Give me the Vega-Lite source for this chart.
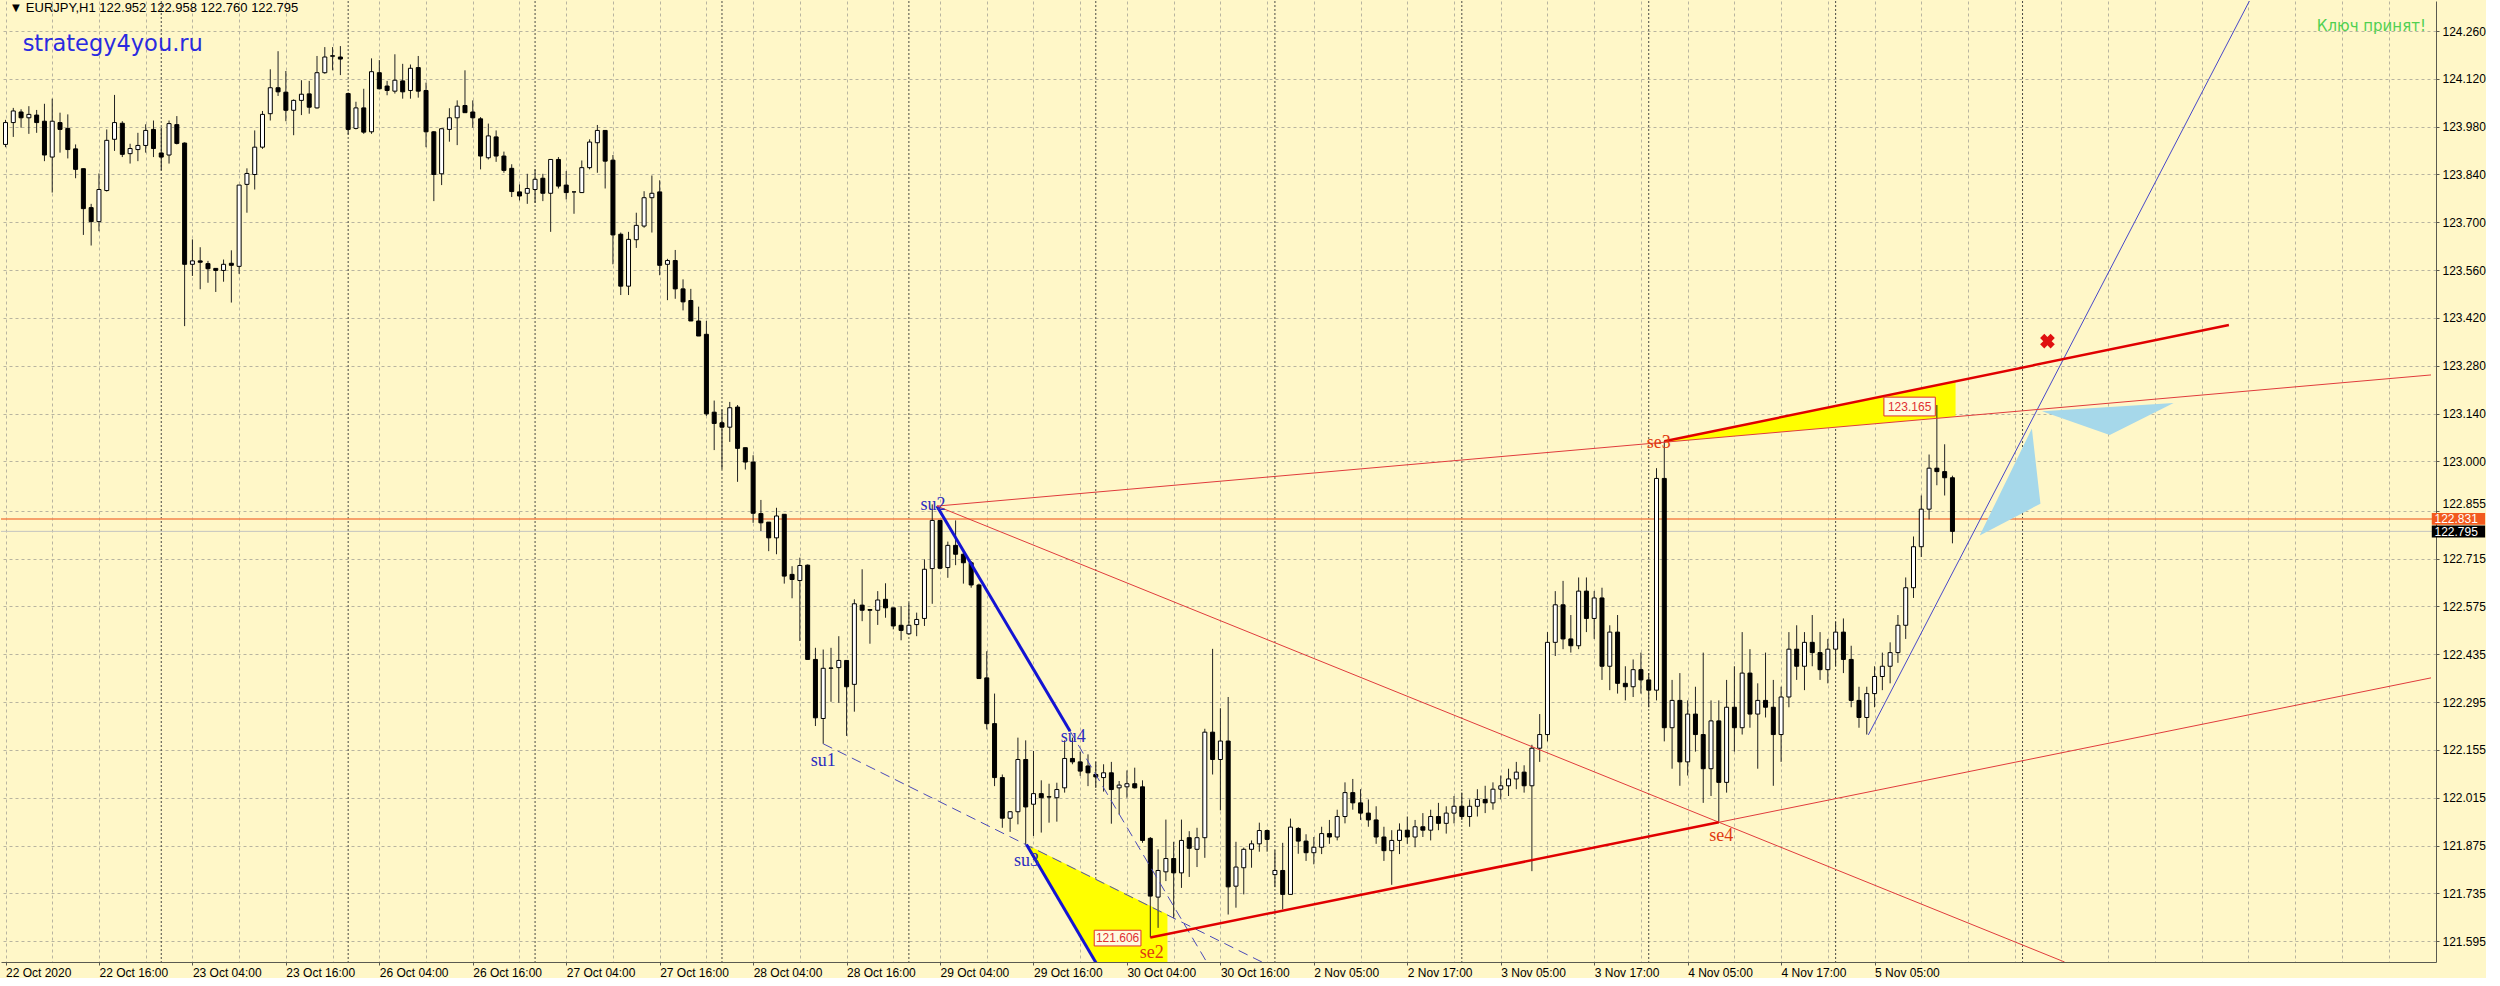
{
"$schema": "https://vega.github.io/schema/vega-lite/v6.json",
"width": 2435, "height": 961, "padding": 0,
"background": "#fff7c8",
"config": {"view": {"stroke": null}},
"data": {"values": [{}]},
"datasets": {
"sep": [{"n":20},{"n":44},{"n":68},{"n":92},{"n":116},{"n":140},{"n":163},{"n":187},{"n":211},{"n":235},{"n":259}],
"cd": [
{"n":0,"o":123.928,"h":124.0,"l":123.92,"c":123.992},
{"n":1,"o":123.992,"h":124.035,"l":123.95,"c":124.026},
{"n":2,"o":124.023,"h":124.031,"l":123.977,"c":124.006},
{"n":3,"o":124.006,"h":124.04,"l":123.959,"c":124.016},
{"n":4,"o":124.014,"h":124.029,"l":123.962,"c":123.992},
{"n":5,"o":123.996,"h":124.047,"l":123.879,"c":123.897},
{"n":6,"o":123.891,"h":124.062,"l":123.787,"c":123.996},
{"n":7,"o":123.992,"h":124.021,"l":123.904,"c":123.972},
{"n":8,"o":123.975,"h":124.016,"l":123.887,"c":123.913},
{"n":9,"o":123.915,"h":123.928,"l":123.829,"c":123.855},
{"n":10,"o":123.857,"h":123.857,"l":123.663,"c":123.74},
{"n":11,"o":123.743,"h":123.754,"l":123.632,"c":123.702},
{"n":12,"o":123.702,"h":123.843,"l":123.674,"c":123.796},
{"n":13,"o":123.793,"h":123.972,"l":123.79,"c":123.94},
{"n":14,"o":123.943,"h":124.073,"l":123.909,"c":123.992},
{"n":15,"o":123.99,"h":123.996,"l":123.891,"c":123.899},
{"n":16,"o":123.901,"h":123.93,"l":123.872,"c":123.916},
{"n":17,"o":123.913,"h":123.962,"l":123.879,"c":123.925},
{"n":18,"o":123.925,"h":123.987,"l":123.904,"c":123.969},
{"n":19,"o":123.972,"h":123.998,"l":123.891,"c":123.916},
{"n":20,"o":123.903,"h":123.977,"l":123.852,"c":123.891},
{"n":21,"o":123.897,"h":123.998,"l":123.872,"c":123.989},
{"n":22,"o":123.986,"h":124.011,"l":123.928,"c":123.931},
{"n":23,"o":123.932,"h":123.934,"l":123.396,"c":123.577},
{"n":24,"o":123.577,"h":123.65,"l":123.543,"c":123.587},
{"n":25,"o":123.587,"h":123.627,"l":123.504,"c":123.583},
{"n":26,"o":123.579,"h":123.587,"l":123.523,"c":123.564},
{"n":27,"o":123.565,"h":123.565,"l":123.496,"c":123.559},
{"n":28,"o":123.559,"h":123.591,"l":123.526,"c":123.577},
{"n":29,"o":123.58,"h":123.618,"l":123.465,"c":123.574},
{"n":30,"o":123.571,"h":123.809,"l":123.549,"c":123.809},
{"n":31,"o":123.811,"h":123.858,"l":123.728,"c":123.843},
{"n":32,"o":123.84,"h":123.969,"l":123.796,"c":123.92},
{"n":33,"o":123.92,"h":124.026,"l":123.915,"c":124.016},
{"n":34,"o":124.018,"h":124.148,"l":123.998,"c":124.094},
{"n":35,"o":124.094,"h":124.201,"l":124.07,"c":124.082},
{"n":36,"o":124.081,"h":124.143,"l":123.996,"c":124.028},
{"n":37,"o":124.028,"h":124.06,"l":123.955,"c":124.057},
{"n":38,"o":124.057,"h":124.116,"l":124.014,"c":124.075},
{"n":39,"o":124.076,"h":124.114,"l":124.018,"c":124.037},
{"n":40,"o":124.035,"h":124.187,"l":124.033,"c":124.138},
{"n":41,"o":124.138,"h":124.213,"l":124.135,"c":124.184},
{"n":42,"o":124.186,"h":124.213,"l":124.145,"c":124.188},
{"n":43,"o":124.184,"h":124.216,"l":124.131,"c":124.178},
{"n":44,"o":124.077,"h":124.08,"l":123.957,"c":123.972},
{"n":45,"o":123.975,"h":124.053,"l":123.972,"c":124.035},
{"n":46,"o":124.035,"h":124.091,"l":123.959,"c":123.964},
{"n":47,"o":123.965,"h":124.18,"l":123.959,"c":124.141},
{"n":48,"o":124.138,"h":124.175,"l":124.089,"c":124.091},
{"n":49,"o":124.099,"h":124.114,"l":124.072,"c":124.086},
{"n":50,"o":124.084,"h":124.192,"l":124.077,"c":124.116},
{"n":51,"o":124.114,"h":124.164,"l":124.062,"c":124.082},
{"n":52,"o":124.086,"h":124.162,"l":124.062,"c":124.151},
{"n":53,"o":124.153,"h":124.187,"l":124.065,"c":124.084},
{"n":54,"o":124.086,"h":124.109,"l":123.92,"c":123.965},
{"n":55,"o":123.965,"h":123.967,"l":123.762,"c":123.84},
{"n":56,"o":123.842,"h":123.974,"l":123.809,"c":123.974},
{"n":57,"o":123.972,"h":124.034,"l":123.936,"c":124.006},
{"n":58,"o":124.006,"h":124.057,"l":123.926,"c":124.04},
{"n":59,"o":124.042,"h":124.145,"l":124.021,"c":124.021},
{"n":60,"o":124.023,"h":124.057,"l":123.977,"c":124.006},
{"n":61,"o":124.003,"h":124.008,"l":123.855,"c":123.894},
{"n":62,"o":123.889,"h":123.989,"l":123.884,"c":123.953},
{"n":63,"o":123.95,"h":123.969,"l":123.877,"c":123.894},
{"n":64,"o":123.894,"h":123.907,"l":123.845,"c":123.852},
{"n":65,"o":123.858,"h":123.87,"l":123.774,"c":123.79},
{"n":66,"o":123.789,"h":123.811,"l":123.764,"c":123.777},
{"n":67,"o":123.785,"h":123.842,"l":123.754,"c":123.799},
{"n":68,"o":123.796,"h":123.855,"l":123.757,"c":123.826},
{"n":69,"o":123.829,"h":123.842,"l":123.762,"c":123.785},
{"n":70,"o":123.785,"h":123.884,"l":123.672,"c":123.884},
{"n":71,"o":123.884,"h":123.891,"l":123.799,"c":123.806},
{"n":72,"o":123.809,"h":123.85,"l":123.767,"c":123.787},
{"n":73,"o":123.789,"h":123.789,"l":123.725,"c":123.789},
{"n":74,"o":123.787,"h":123.881,"l":123.787,"c":123.86},
{"n":75,"o":123.86,"h":123.943,"l":123.855,"c":123.935},
{"n":76,"o":123.933,"h":123.985,"l":123.845,"c":123.969},
{"n":77,"o":123.969,"h":123.969,"l":123.799,"c":123.879},
{"n":78,"o":123.882,"h":123.897,"l":123.577,"c":123.663},
{"n":79,"o":123.665,"h":123.67,"l":123.487,"c":123.513},
{"n":80,"o":123.513,"h":123.672,"l":123.487,"c":123.65},
{"n":81,"o":123.649,"h":123.728,"l":123.625,"c":123.691},
{"n":82,"o":123.689,"h":123.791,"l":123.684,"c":123.772},
{"n":83,"o":123.772,"h":123.837,"l":123.67,"c":123.785},
{"n":84,"o":123.789,"h":123.823,"l":123.545,"c":123.574},
{"n":85,"o":123.577,"h":123.593,"l":123.472,"c":123.588},
{"n":86,"o":123.588,"h":123.619,"l":123.476,"c":123.505},
{"n":87,"o":123.505,"h":123.533,"l":123.442,"c":123.467},
{"n":88,"o":123.471,"h":123.505,"l":123.411,"c":123.411},
{"n":89,"o":123.411,"h":123.453,"l":123.367,"c":123.367},
{"n":90,"o":123.372,"h":123.411,"l":123.133,"c":123.139},
{"n":91,"o":123.144,"h":123.178,"l":123.033,"c":123.111},
{"n":92,"o":123.113,"h":123.152,"l":122.977,"c":123.1},
{"n":93,"o":123.1,"h":123.174,"l":123.057,"c":123.157},
{"n":94,"o":123.159,"h":123.165,"l":122.94,"c":123.038},
{"n":95,"o":123.04,"h":123.04,"l":122.976,"c":122.998},
{"n":96,"o":122.998,"h":123.018,"l":122.82,"c":122.848},
{"n":97,"o":122.847,"h":122.887,"l":122.796,"c":122.82},
{"n":98,"o":122.822,"h":122.822,"l":122.737,"c":122.776},
{"n":99,"o":122.776,"h":122.864,"l":122.728,"c":122.84},
{"n":100,"o":122.845,"h":122.845,"l":122.642,"c":122.664},
{"n":101,"o":122.669,"h":122.693,"l":122.599,"c":122.654},
{"n":102,"o":122.651,"h":122.718,"l":122.474,"c":122.695},
{"n":103,"o":122.696,"h":122.698,"l":122.42,"c":122.42},
{"n":104,"o":122.42,"h":122.454,"l":122.225,"c":122.249},
{"n":105,"o":122.247,"h":122.449,"l":122.173,"c":122.394},
{"n":106,"o":122.394,"h":122.454,"l":122.296,"c":122.395},
{"n":107,"o":122.396,"h":122.488,"l":122.293,"c":122.417},
{"n":108,"o":122.417,"h":122.417,"l":122.196,"c":122.34},
{"n":109,"o":122.347,"h":122.596,"l":122.267,"c":122.583},
{"n":110,"o":122.579,"h":122.684,"l":122.532,"c":122.564},
{"n":111,"o":122.566,"h":122.567,"l":122.466,"c":122.564},
{"n":112,"o":122.564,"h":122.62,"l":122.521,"c":122.594},
{"n":113,"o":122.596,"h":122.643,"l":122.542,"c":122.571},
{"n":114,"o":122.571,"h":122.571,"l":122.508,"c":122.518},
{"n":115,"o":122.52,"h":122.576,"l":122.476,"c":122.505},
{"n":116,"o":122.495,"h":122.586,"l":122.493,"c":122.52},
{"n":117,"o":122.522,"h":122.557,"l":122.488,"c":122.537},
{"n":118,"o":122.54,"h":122.713,"l":122.518,"c":122.684},
{"n":119,"o":122.686,"h":122.874,"l":122.583,"c":122.827},
{"n":120,"o":122.827,"h":122.827,"l":122.684,"c":122.687},
{"n":121,"o":122.689,"h":122.765,"l":122.659,"c":122.754},
{"n":122,"o":122.754,"h":122.827,"l":122.696,"c":122.728},
{"n":123,"o":122.728,"h":122.737,"l":122.642,"c":122.703},
{"n":124,"o":122.703,"h":122.708,"l":122.63,"c":122.638},
{"n":125,"o":122.638,"h":122.642,"l":122.364,"c":122.364},
{"n":126,"o":122.366,"h":122.444,"l":122.215,"c":122.232},
{"n":127,"o":122.232,"h":122.32,"l":122.049,"c":122.074},
{"n":128,"o":122.074,"h":122.083,"l":121.927,"c":121.955},
{"n":129,"o":121.955,"h":121.976,"l":121.915,"c":121.974},
{"n":130,"o":121.974,"h":122.191,"l":121.937,"c":122.127},
{"n":131,"o":122.127,"h":122.183,"l":121.878,"c":121.988},
{"n":132,"o":121.996,"h":122.152,"l":121.903,"c":122.027},
{"n":133,"o":122.027,"h":122.066,"l":121.913,"c":122.015},
{"n":134,"o":122.017,"h":122.056,"l":121.942,"c":122.018},
{"n":135,"o":122.015,"h":122.059,"l":121.945,"c":122.039},
{"n":136,"o":122.044,"h":122.183,"l":122.03,"c":122.13},
{"n":137,"o":122.13,"h":122.191,"l":122.113,"c":122.12},
{"n":138,"o":122.12,"h":122.15,"l":122.079,"c":122.093},
{"n":139,"o":122.108,"h":122.142,"l":122.049,"c":122.088},
{"n":140,"o":122.083,"h":122.12,"l":122.044,"c":122.076},
{"n":141,"o":122.074,"h":122.113,"l":122.033,"c":122.088},
{"n":142,"o":122.088,"h":122.12,"l":121.939,"c":122.039},
{"n":143,"o":122.044,"h":122.064,"l":121.966,"c":122.052},
{"n":144,"o":122.047,"h":122.095,"l":122.015,"c":122.056},
{"n":145,"o":122.056,"h":122.103,"l":122.042,"c":122.044},
{"n":146,"o":122.047,"h":122.066,"l":121.883,"c":121.89},
{"n":147,"o":121.896,"h":121.9,"l":121.606,"c":121.727},
{"n":148,"o":121.724,"h":121.864,"l":121.634,"c":121.802},
{"n":149,"o":121.798,"h":121.951,"l":121.771,"c":121.837},
{"n":150,"o":121.837,"h":121.886,"l":121.662,"c":121.795},
{"n":151,"o":121.795,"h":121.951,"l":121.751,"c":121.89},
{"n":152,"o":121.898,"h":121.917,"l":121.783,"c":121.867},
{"n":153,"o":121.864,"h":121.927,"l":121.812,"c":121.898},
{"n":154,"o":121.898,"h":122.217,"l":121.839,"c":122.207},
{"n":155,"o":122.207,"h":122.451,"l":122.083,"c":122.127},
{"n":156,"o":122.127,"h":122.277,"l":121.978,"c":122.181},
{"n":157,"o":122.181,"h":122.31,"l":121.673,"c":121.754},
{"n":158,"o":121.756,"h":121.886,"l":121.693,"c":121.812},
{"n":159,"o":121.81,"h":121.869,"l":121.732,"c":121.864},
{"n":160,"o":121.864,"h":121.89,"l":121.81,"c":121.88},
{"n":161,"o":121.88,"h":121.942,"l":121.857,"c":121.919},
{"n":162,"o":121.919,"h":121.922,"l":121.857,"c":121.893},
{"n":163,"o":121.79,"h":121.861,"l":121.753,"c":121.802},
{"n":164,"o":121.802,"h":121.883,"l":121.688,"c":121.732},
{"n":165,"o":121.732,"h":121.954,"l":121.732,"c":121.929},
{"n":166,"o":121.925,"h":121.929,"l":121.851,"c":121.888},
{"n":167,"o":121.888,"h":121.908,"l":121.83,"c":121.854},
{"n":168,"o":121.854,"h":121.9,"l":121.82,"c":121.87},
{"n":169,"o":121.87,"h":121.93,"l":121.85,"c":121.91},
{"n":170,"o":121.91,"h":121.95,"l":121.88,"c":121.9},
{"n":171,"o":121.9,"h":121.98,"l":121.89,"c":121.96},
{"n":172,"o":121.96,"h":122.06,"l":121.94,"c":122.03},
{"n":173,"o":122.03,"h":122.07,"l":121.98,"c":122.0},
{"n":174,"o":122.0,"h":122.04,"l":121.95,"c":121.97},
{"n":175,"o":121.97,"h":122.01,"l":121.93,"c":121.95},
{"n":176,"o":121.95,"h":121.99,"l":121.88,"c":121.9},
{"n":177,"o":121.9,"h":121.93,"l":121.83,"c":121.86},
{"n":178,"o":121.86,"h":121.92,"l":121.76,"c":121.89},
{"n":179,"o":121.89,"h":121.94,"l":121.85,"c":121.92},
{"n":180,"o":121.92,"h":121.96,"l":121.88,"c":121.9},
{"n":181,"o":121.9,"h":121.95,"l":121.87,"c":121.93},
{"n":182,"o":121.93,"h":121.97,"l":121.9,"c":121.92},
{"n":183,"o":121.92,"h":121.98,"l":121.89,"c":121.96},
{"n":184,"o":121.96,"h":122.0,"l":121.92,"c":121.94},
{"n":185,"o":121.94,"h":121.99,"l":121.91,"c":121.97},
{"n":186,"o":121.97,"h":122.02,"l":121.94,"c":121.99},
{"n":187,"o":121.99,"h":122.03,"l":121.95,"c":121.96},
{"n":188,"o":121.96,"h":122.01,"l":121.93,"c":121.99},
{"n":189,"o":121.99,"h":122.04,"l":121.96,"c":122.01},
{"n":190,"o":122.01,"h":122.05,"l":121.97,"c":122.0},
{"n":191,"o":122.0,"h":122.06,"l":121.98,"c":122.04},
{"n":192,"o":122.04,"h":122.08,"l":122.01,"c":122.05},
{"n":193,"o":122.05,"h":122.1,"l":122.02,"c":122.07},
{"n":194,"o":122.07,"h":122.12,"l":122.04,"c":122.09},
{"n":195,"o":122.09,"h":122.11,"l":122.03,"c":122.05},
{"n":196,"o":122.05,"h":122.17,"l":121.8,"c":122.16},
{"n":197,"o":122.16,"h":122.26,"l":122.12,"c":122.2},
{"n":198,"o":122.2,"h":122.5,"l":122.18,"c":122.47},
{"n":199,"o":122.47,"h":122.62,"l":122.43,"c":122.58},
{"n":200,"o":122.58,"h":122.65,"l":122.45,"c":122.48},
{"n":201,"o":122.48,"h":122.55,"l":122.44,"c":122.46},
{"n":202,"o":122.46,"h":122.66,"l":122.45,"c":122.62},
{"n":203,"o":122.62,"h":122.66,"l":122.5,"c":122.54},
{"n":204,"o":122.54,"h":122.62,"l":122.48,"c":122.6},
{"n":205,"o":122.6,"h":122.63,"l":122.36,"c":122.4},
{"n":206,"o":122.4,"h":122.52,"l":122.33,"c":122.5},
{"n":207,"o":122.5,"h":122.55,"l":122.32,"c":122.35},
{"n":208,"o":122.35,"h":122.4,"l":122.3,"c":122.34},
{"n":209,"o":122.34,"h":122.42,"l":122.31,"c":122.39},
{"n":210,"o":122.39,"h":122.44,"l":122.32,"c":122.36},
{"n":211,"o":122.36,"h":122.38,"l":122.28,"c":122.33},
{"n":212,"o":122.33,"h":122.98,"l":122.3,"c":122.95},
{"n":213,"o":122.95,"h":123.06,"l":122.18,"c":122.22},
{"n":214,"o":122.22,"h":122.36,"l":122.1,"c":122.3},
{"n":215,"o":122.3,"h":122.38,"l":122.05,"c":122.12},
{"n":216,"o":122.12,"h":122.3,"l":122.08,"c":122.26},
{"n":217,"o":122.26,"h":122.34,"l":122.15,"c":122.2},
{"n":218,"o":122.2,"h":122.44,"l":122.0,"c":122.1},
{"n":219,"o":122.1,"h":122.3,"l":122.02,"c":122.24},
{"n":220,"o":122.24,"h":122.3,"l":121.945,"c":122.06},
{"n":221,"o":122.06,"h":122.36,"l":122.03,"c":122.28},
{"n":222,"o":122.28,"h":122.4,"l":122.15,"c":122.22},
{"n":223,"o":122.22,"h":122.5,"l":122.2,"c":122.38},
{"n":224,"o":122.38,"h":122.45,"l":122.22,"c":122.26},
{"n":225,"o":122.26,"h":122.35,"l":122.1,"c":122.3},
{"n":226,"o":122.3,"h":122.44,"l":122.25,"c":122.28},
{"n":227,"o":122.28,"h":122.36,"l":122.05,"c":122.2},
{"n":228,"o":122.2,"h":122.34,"l":122.12,"c":122.31},
{"n":229,"o":122.31,"h":122.5,"l":122.28,"c":122.45},
{"n":230,"o":122.45,"h":122.52,"l":122.36,"c":122.4},
{"n":231,"o":122.4,"h":122.5,"l":122.33,"c":122.47},
{"n":232,"o":122.47,"h":122.55,"l":122.4,"c":122.44},
{"n":233,"o":122.44,"h":122.5,"l":122.36,"c":122.39},
{"n":234,"o":122.39,"h":122.48,"l":122.35,"c":122.45},
{"n":235,"o":122.45,"h":122.53,"l":122.4,"c":122.5},
{"n":236,"o":122.5,"h":122.54,"l":122.38,"c":122.42},
{"n":237,"o":122.42,"h":122.46,"l":122.28,"c":122.3},
{"n":238,"o":122.3,"h":122.34,"l":122.22,"c":122.25},
{"n":239,"o":122.25,"h":122.34,"l":122.2,"c":122.32},
{"n":240,"o":122.32,"h":122.4,"l":122.28,"c":122.37},
{"n":241,"o":122.37,"h":122.44,"l":122.33,"c":122.4},
{"n":242,"o":122.4,"h":122.47,"l":122.35,"c":122.44},
{"n":243,"o":122.44,"h":122.55,"l":122.41,"c":122.52},
{"n":244,"o":122.52,"h":122.66,"l":122.48,"c":122.63},
{"n":245,"o":122.63,"h":122.78,"l":122.6,"c":122.75},
{"n":246,"o":122.75,"h":122.9,"l":122.72,"c":122.86},
{"n":247,"o":122.86,"h":123.02,"l":122.83,"c":122.98},
{"n":248,"o":122.98,"h":123.165,"l":122.93,"c":122.97},
{"n":249,"o":122.97,"h":123.05,"l":122.9,"c":122.952},
{"n":250,"o":122.952,"h":122.958,"l":122.76,"c":122.795}
],
"yel": [{"g":"a","x":131.1,"y":121.878,"y2":121.878},{"g":"a","x":149.2,"y":121.674,"y2":121.176},{"g":"b","x":213,"y":123.059,"y2":123.056},{"g":"b","x":250.4,"y":123.234,"y2":123.131}],
"lb": [{"g":"c","x":261.5,"y":123.147,"y2":123.147},{"g":"c","x":270.2,"y":123.159,"y2":123.077},{"g":"c","x":278.4,"y":123.171,"y2":123.171},{"g":"d","x":253.5,"y":122.783,"y2":122.783},{"g":"d","x":260.2,"y":123.096,"y2":122.863},{"g":"d","x":261.3,"y":122.876,"y2":122.876}],
"blueThick": [{"x1":119.6,"p1":122.869,"x2":136.7,"p2":122.21},{"x1":131.1,"p1":121.878,"x2":149.2,"p2":121.176}],
"blueDash": [{"x1":105,"p1":122.173,"x2":161.5,"p2":121.532},{"x1":136.7,"p1":122.21,"x2":154.5,"p2":121.524}],
"blueThin": [{"x1":239.2,"p1":122.199,"x2":290,"p2":124.43}],
"redThin": [{"x1":119.6,"p1":122.869,"x2":311.45,"p2":123.253},{"x1":119.6,"p1":122.869,"x2":264.4,"p2":121.534},{"x1":220,"p1":121.943,"x2":311.45,"p2":122.366}],
"redThick": [{"x1":147,"p1":121.606,"x2":220,"p2":121.943},{"x1":213,"p1":123.059,"x2":285.5,"p2":123.399}],
"suT": [{"n":105.0,"p":122.124,"t":"su1"},{"n":119.1,"p":122.872,"t":"su2"},{"n":131.1,"p":121.83,"t":"su3"},{"n":137.1,"p":122.193,"t":"su4"}],
"seT": [{"n":147.2,"p":121.561,"t":"se2"},{"n":212.3,"p":123.054,"t":"se3"},{"n":220.3,"p":121.904,"t":"se4"}],
"box": [{"x1":139.8,"x2":145.8,"p1":121.581,"p2":121.627,"n":142.8,"p":121.604,"t":"121.606"},{"x1":241.2,"x2":247.8,"p1":123.133,"p2":123.188,"n":244.5,"p":123.16,"t":"123.165"}],
"xmark": [{"n":262.2,"p":123.352}]
},
"layer": [
{"data":{"name":"sep"},"mark":{"type":"rule","color":"#4a4a44","strokeDash":[2,2],"strokeWidth":1},
 "encoding":{"x":{"field":"n","type":"quantitative","title":null,"scale":{"domain":[0.064,311.45],"nice":false,"zero":false},
  "axis":{"orient":"bottom","values":[0,6,12,18,24,30,36,42,48,54,60,66,72,78,84,90,96,102,108,114,120,126,132,138,144,150,156,162,168,174,180,186,192,198,204,210,216,222,228,234,240,246,252,258,264,270,276,282,288,294,300,306],
  "grid":true,"gridColor":"#b8b4a0","gridDash":[3,3],"gridWidth":1,"domainColor":"#5a5a50","tickColor":"#5a5a50","tickSize":3,
  "tickOpacity":{"condition":{"test":"datum.value % 12 != 0 || datum.value > 240","value":0},"value":1},
  "labelExpr":"datum.value % 12 == 0 && datum.value <= 240 ? ['22 Oct 2020','22 Oct 16:00','23 Oct 04:00','23 Oct 16:00','26 Oct 04:00','26 Oct 16:00','27 Oct 04:00','27 Oct 16:00','28 Oct 04:00','28 Oct 16:00','29 Oct 04:00','29 Oct 16:00','30 Oct 04:00','30 Oct 16:00','2 Nov 05:00','2 Nov 17:00','3 Nov 05:00','3 Nov 17:00','4 Nov 05:00','4 Nov 17:00','5 Nov 05:00'][datum.value / 12] : ''",
  "labelAlign":"left","labelFont":"Liberation Sans","labelFontSize":12,"labelColor":"#000000","labelPadding":2,"labelOverlap":false,"labelBound":false,"labelFlush":false,"title":null,"zindex":0}}}},
{"mark":{"type":"rule","color":"#f4844c","strokeWidth":1.5},
 "encoding":{"y":{"datum":122.831,"type":"quantitative","title":null,"scale":{"domain":[121.534,124.348],"nice":false,"zero":false},
  "axis":{"orient":"right","values":[124.26,124.12,123.98,123.84,123.7,123.56,123.42,123.28,123.14,123.0,122.855,122.715,122.575,122.435,122.295,122.155,122.015,121.875,121.735,121.595],
  "format":".3f","grid":true,"gridColor":"#b8b4a0","gridDash":[3,3],"gridWidth":1,"domainColor":"#5a5a50","tickColor":"#5a5a50","tickSize":3,
  "labelBaseline":{"condition":{"test":"datum.value == 122.855","value":"bottom"},"value":"middle"},
  "labelFont":"Liberation Sans","labelFontSize":12,"labelColor":"#000000","labelPadding":3,"labelOverlap":false,"labelBound":false,"labelFlush":false,"title":null,"zindex":0}}}},
{"mark":{"type":"rule","color":"#c4c4c0","strokeWidth":1},
 "encoding":{"y":{"datum":122.795,"type":"quantitative","title":null}}},
{"data":{"name":"yel"},"mark":{"type":"area","color":"#ffff00","opacity":1,"clip":true},
 "encoding":{"x":{"field":"x","type":"quantitative","title":null},"y":{"field":"y","type":"quantitative","title":null},"y2":{"field":"y2"},"detail":{"field":"g"}}},
{"data":{"name":"cd"},"mark":{"type":"rule","color":"#222222","strokeWidth":1},
 "encoding":{"x":{"field":"n","type":"quantitative","title":null},"y":{"field":"l","type":"quantitative","title":null},"y2":{"field":"h"}}},
{"data":{"name":"cd"},"mark":{"type":"bar","size":4,"stroke":"#000000","strokeWidth":1},
 "encoding":{"x":{"field":"n","type":"quantitative","title":null},"y":{"field":"o","type":"quantitative","title":null},"y2":{"field":"c"},
  "fill":{"condition":{"test":"datum.c >= datum.o","value":"#ffffff"},"value":"#000000"}}},
{"data":{"name":"blueDash"},"mark":{"type":"rule","color":"#4a4ab8","strokeWidth":1,"strokeDash":[10,6],"clip":true},
 "encoding":{"x":{"field":"x1","type":"quantitative","title":null},"x2":{"field":"x2"},"y":{"field":"p1","type":"quantitative","title":null},"y2":{"field":"p2"}}},
{"data":{"name":"blueThin"},"mark":{"type":"rule","color":"#4848c8","strokeWidth":1,"clip":true},
 "encoding":{"x":{"field":"x1","type":"quantitative","title":null},"x2":{"field":"x2"},"y":{"field":"p1","type":"quantitative","title":null},"y2":{"field":"p2"}}},
{"data":{"name":"blueThick"},"mark":{"type":"rule","color":"#1414d2","strokeWidth":3,"clip":true},
 "encoding":{"x":{"field":"x1","type":"quantitative","title":null},"x2":{"field":"x2"},"y":{"field":"p1","type":"quantitative","title":null},"y2":{"field":"p2"}}},
{"data":{"name":"redThin"},"mark":{"type":"rule","color":"#e03c3c","strokeWidth":1,"clip":true},
 "encoding":{"x":{"field":"x1","type":"quantitative","title":null},"x2":{"field":"x2"},"y":{"field":"p1","type":"quantitative","title":null},"y2":{"field":"p2"}}},
{"data":{"name":"redThick"},"mark":{"type":"rule","color":"#e00000","strokeWidth":2.5,"clip":true},
 "encoding":{"x":{"field":"x1","type":"quantitative","title":null},"x2":{"field":"x2"},"y":{"field":"p1","type":"quantitative","title":null},"y2":{"field":"p2"}}},
{"data":{"name":"lb"},"mark":{"type":"area","color":"#a6d8ea","opacity":1,"clip":true},
 "encoding":{"x":{"field":"x","type":"quantitative","title":null},"y":{"field":"y","type":"quantitative","title":null},"y2":{"field":"y2"},"detail":{"field":"g"}}},
{"data":{"name":"xmark"},"mark":{"type":"point","shape":"cross","angle":45,"size":220,"filled":true,"color":"#e01010","opacity":1},
 "encoding":{"x":{"field":"n","type":"quantitative","title":null},"y":{"field":"p","type":"quantitative","title":null}}},
{"data":{"name":"suT"},"mark":{"type":"text","font":"Liberation Serif","fontSize":18,"color":"#2c2cc0","align":"center","baseline":"middle"},
 "encoding":{"x":{"field":"n","type":"quantitative","title":null},"y":{"field":"p","type":"quantitative","title":null},"text":{"field":"t"}}},
{"data":{"name":"seT"},"mark":{"type":"text","font":"Liberation Serif","fontSize":18,"color":"#e03a10","align":"center","baseline":"middle"},
 "encoding":{"x":{"field":"n","type":"quantitative","title":null},"y":{"field":"p","type":"quantitative","title":null},"text":{"field":"t"}}},
{"data":{"name":"box"},"mark":{"type":"rect","fill":"#fffbe0","stroke":"#e03030","strokeWidth":1},
 "encoding":{"x":{"field":"x1","type":"quantitative","title":null},"x2":{"field":"x2"},"y":{"field":"p1","type":"quantitative","title":null},"y2":{"field":"p2"}}},
{"data":{"name":"box"},"mark":{"type":"text","font":"Liberation Sans","fontSize":12,"color":"#e03030","align":"center","baseline":"middle"},
 "encoding":{"x":{"field":"n","type":"quantitative","title":null},"y":{"field":"p","type":"quantitative","title":null},"text":{"field":"t"}}},
{"mark":{"type":"text","font":"Liberation Sans","fontSize":13,"color":"#000000","align":"left","baseline":"middle","text":"▼ EURJPY,H1  122.952 122.958 122.760 122.795"},
 "encoding":{"x":{"datum":0.5,"type":"quantitative","title":null},"y":{"datum":124.3265,"type":"quantitative","title":null}}},
{"mark":{"type":"text","font":"DejaVu Sans","fontSize":22.5,"color":"#2a2ae0","align":"left","baseline":"alphabetic","text":"strategy4you.ru"},
 "encoding":{"x":{"datum":2.2,"type":"quantitative","title":null},"y":{"datum":124.201,"type":"quantitative","title":null}}},
{"mark":{"type":"text","font":"DejaVu Sans","fontSize":15,"color":"#50d050","align":"right","baseline":"alphabetic","text":"Ключ принят!"},
 "encoding":{"x":{"datum":310.8,"type":"quantitative","title":null},"y":{"datum":124.26,"type":"quantitative","title":null}}},
{"mark":{"type":"rect","fill":"#f25a1e","clip":false},
 "encoding":{"x":{"datum":311.55,"type":"quantitative","title":null},"x2":{"datum":318.4},"y":{"datum":122.849,"type":"quantitative","title":null},"y2":{"datum":122.814}}},
{"mark":{"type":"rect","fill":"#000000","clip":false},
 "encoding":{"x":{"datum":311.55,"type":"quantitative","title":null},"x2":{"datum":318.4},"y":{"datum":122.812,"type":"quantitative","title":null},"y2":{"datum":122.777}}},
{"mark":{"type":"text","font":"Liberation Sans","fontSize":12,"color":"#ffffff","align":"left","baseline":"middle","text":"122.831","clip":false},
 "encoding":{"x":{"datum":311.9,"type":"quantitative","title":null},"y":{"datum":122.8315,"type":"quantitative","title":null}}},
{"mark":{"type":"text","font":"Liberation Sans","fontSize":12,"color":"#ffffff","align":"left","baseline":"middle","text":"122.795","clip":false},
 "encoding":{"x":{"datum":311.9,"type":"quantitative","title":null},"y":{"datum":122.7945,"type":"quantitative","title":null}}}
]
}
